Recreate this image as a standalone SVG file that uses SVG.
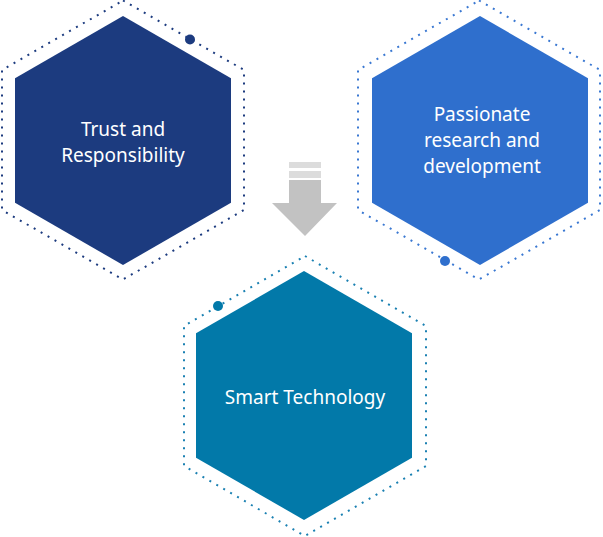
<svg xmlns="http://www.w3.org/2000/svg" width="603" height="537" viewBox="0 0 603 537">
<style>
.hex{stroke:none}
.dots{fill:none;stroke-width:2;stroke-dasharray:2 6}
.lbl{font-family:"Noto Sans","Liberation Sans",sans-serif;font-size:19px;fill:#ffffff;text-anchor:middle}
</style>
<rect width="603" height="537" fill="#ffffff"/>
<g id="connectors">
<g id="arrow">
<rect x="289" y="162" width="32" height="6" fill="#dcdcdc"/>
<rect x="289" y="171" width="32" height="7" fill="#dcdcdc"/>
<polygon points="289,180 321,180 321,203 337,203 305,236 272,203 289,203" fill="#c2c2c2"/>
</g>
</g>
<g id="trust">
<polygon class="dots" stroke="#1c3b7f" points="123,0.5 244,70 244,210 123,279.5 2,210 2,70"/>
<polygon class="hex" fill="#1c3b7f" points="123,16 231,78.25 231,202.75 123,265 15,202.75 15,78.25"/>
<circle cx="190" cy="39.5" r="5" fill="#1c3b7f"/>
<text class="lbl" x="123" y="136">Trust and</text>
<text class="lbl" x="123" y="162">Responsibility</text>
</g>
<g id="passion">
<polygon class="dots" stroke="#3a78d2" points="479,0.5 600,70 600,210 479,279.5 358,210 358,70"/>
<polygon class="hex" fill="#2f6fcd" points="480,16 588,78.25 588,202.75 480,265 372,202.75 372,78.25"/>
<circle cx="445" cy="261" r="5" fill="#2f6fcd"/>
<text class="lbl" x="482" y="121">Passionate</text>
<text class="lbl" x="482" y="147">research and</text>
<text class="lbl" x="482" y="173">development</text>
</g>
<g id="smart">
<polygon class="dots" stroke="#1a80b2" points="305,256 426,326 426,466 305,536 184,466 184,326"/>
<polygon class="hex" fill="#0279a9" points="304,271 412,333.25 412,457.75 304,520 196,457.75 196,333.25"/>
<circle cx="218" cy="306" r="5" fill="#0279a9"/>
<text class="lbl" x="305" y="404">Smart Technology</text>
</g>
</svg>
